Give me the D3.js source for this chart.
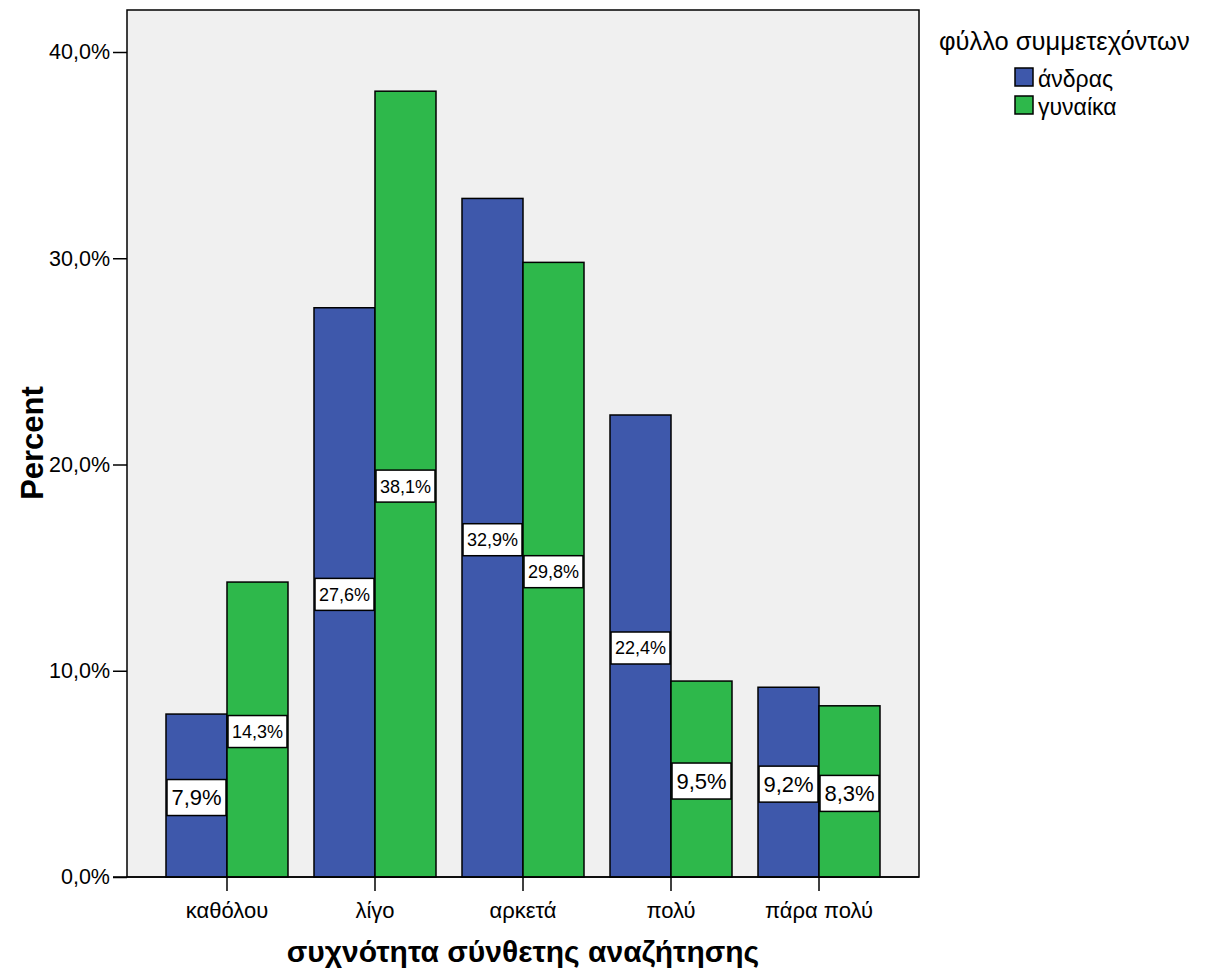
<!DOCTYPE html>
<html><head><meta charset="utf-8">
<script src="https://cdn.jsdelivr.net/npm/d3@7"></script>
<style>body{margin:0;background:#fff}svg{display:block}text{font-family:"Liberation Sans",Arial,sans-serif}</style>
</head><body>
<svg id="c" width="1211" height="971"></svg>
<script>
const categories = ["καθόλου","λίγο","αρκετά","πολύ","πάρα πολύ"];
const seriesNames = ["άνδρας","γυναίκα"];
const men = [7.9, 27.6, 32.9, 22.4, 9.2];
const women = [14.3, 38.1, 29.8, 9.5, 8.3];
const yTicks = [0, 10, 20, 30, 40];
const colors = ["#3e58ab","#2eb84b"];
const bigLabel = [[true,false,false,false,true],[false,false,false,true,true]];

const svg = d3.select("#c");
const L = 127, R = 919, T = 10, B = 877;
svg.append("rect").attr("x",L).attr("y",T).attr("width",R-L).attr("height",B-T)
  .attr("fill","#f0f0f0").attr("stroke","#000").attr("stroke-width",1.5);

const x = d3.scaleBand().domain(categories).range([L,R]).paddingInner(0.1757).paddingOuter(0.2635);
const xs = d3.scaleBand().domain(seriesNames).range([0,x.bandwidth()]);
const y = d3.scaleLinear().domain([0,40]).range([B,52]);

const fmt = v => d3.format(".1f")(v).replace(".",",") + "%";

const series = [men, women];
series.forEach((vals, si) => {
  const g = svg.append("g");
  categories.forEach((c, i) => {
    const bx = x(c) + xs(seriesNames[si]);
    const bw = xs.bandwidth();
    g.append("rect").attr("x",bx).attr("y",y(vals[i])).attr("width",bw).attr("height",B-y(vals[i]))
      .attr("fill",colors[si]).attr("stroke","#000").attr("stroke-width",1.5);
  });
});
series.forEach((vals, si) => {
  categories.forEach((c, i) => {
    const bx = x(c) + xs(seriesNames[si]);
    const bw = xs.bandwidth();
    const big = bigLabel[si][i];
    const h = big ? 36 : 32;
    const cy = y(vals[i]/2) + 2;
    svg.append("rect").attr("x",bx+1).attr("y",cy-h/2).attr("width",bw-2).attr("height",h)
      .attr("fill","#fff").attr("stroke","#000").attr("stroke-width",1.5);
    svg.append("text").attr("x",bx+bw/2).attr("y",cy).attr("dy","0.36em")
      .attr("text-anchor","middle").attr("font-size", big ? 22 : 18).text(fmt(vals[i]));
  });
});

// Y axis
const ya = svg.append("g").attr("transform",`translate(${L},0)`)
  .call(d3.axisLeft(y).tickValues(yTicks).tickSize(14).tickPadding(3).tickFormat(fmt));
ya.select(".domain").remove();
ya.selectAll("line").attr("stroke","#000").attr("stroke-width",1.5);
ya.selectAll("text").attr("font-size",21.5).attr("fill","#000").attr("font-family","Liberation Sans, Arial, sans-serif");

// X axis
const xa = svg.append("g").attr("transform",`translate(0,${B})`)
  .call(d3.axisBottom(x).tickSize(14).tickPadding(11));
xa.select(".domain").remove();
xa.selectAll("line").attr("stroke","#000").attr("stroke-width",1.5);
xa.selectAll("text").attr("font-size",22).attr("fill","#000").attr("font-family","Liberation Sans, Arial, sans-serif");
svg.append("line").attr("x1",113).attr("x2",R).attr("y1",B).attr("y2",B).attr("stroke","#000").attr("stroke-width",1.5);

// Titles
svg.append("text").attr("x",523).attr("y",962).attr("text-anchor","middle")
  .attr("font-size",30).attr("font-weight","bold").text("συχνότητα σύνθετης αναζήτησης");
svg.append("text").attr("transform","translate(43,443) rotate(-90)").attr("text-anchor","middle")
  .attr("font-size",31).attr("font-weight","bold").text("Percent");

// Legend
svg.append("text").attr("x",939).attr("y",50).attr("font-size",25.5).text("φύλλο συμμετεχόντων");
seriesNames.forEach((n, i) => {
  svg.append("rect").attr("x",1015).attr("y",68+i*28).attr("width",18).attr("height",18)
    .attr("fill",colors[i]).attr("stroke","#000").attr("stroke-width",1.5);
  svg.append("text").attr("x",1038).attr("y",87+i*28).attr("font-size",23).text(n);
});
</script>
</body></html>
